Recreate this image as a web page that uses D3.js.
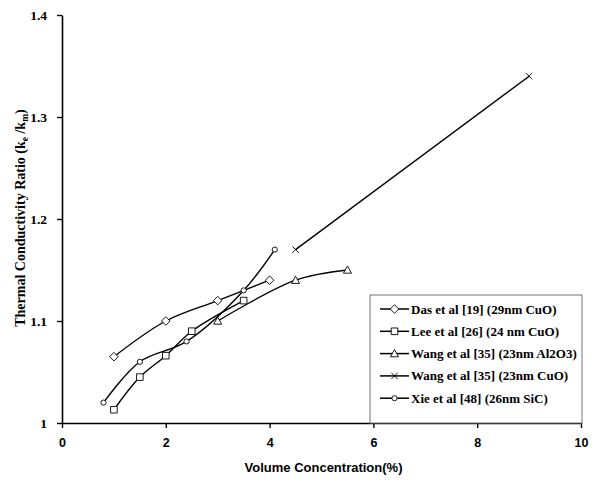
<!DOCTYPE html>
<html>
<head>
<meta charset="utf-8">
<script src="https://cdn.jsdelivr.net/npm/d3@7"></script>
<style>
  html, body { margin: 0; padding: 0; background: #fff; }
  svg { display: block; }
</style>
</head>
<body>
<svg id="chart" width="593" height="481"></svg>
<script>
// ---- data ----
const xTicks = [0, 2, 4, 6, 8, 10];
const yTicks = [1, 1.1, 1.2, 1.3, 1.4];
const seriesNames = [
  "Das et al [19] (29nm CuO)",
  "Lee et al [26] (24 nm CuO)",
  "Wang et al [35] (23nm Al2O3)",
  "Wang et al [35] (23nm CuO)",
  "Xie et al [48] (26nm SiC)"
];
const seriesMarkers = ["diamond", "square", "triangle", "cross", "circle"];
const dasX = [1, 2, 3, 4];
const dasY = [1.065, 1.10, 1.12, 1.14];
const leeX = [1, 1.5, 2, 2.5, 3.5];
const leeY = [1.013, 1.045, 1.066, 1.09, 1.12];
const wangAlX = [3, 4.5, 5.5];
const wangAlY = [1.10, 1.14, 1.15];
const wangCuX = [4.5, 9];
const wangCuY = [1.17, 1.34];
const xieX = [0.8, 1.5, 2.4, 3.5, 4.1];
const xieY = [1.02, 1.06, 1.08, 1.13, 1.17];

const seriesX = [dasX, leeX, wangAlX, wangCuX, xieX];
const seriesY = [dasY, leeY, wangAlY, wangCuY, xieY];
const series = seriesNames.map((name, i) => ({
  name, marker: seriesMarkers[i],
  points: seriesX[i].map((x, j) => ({ x, y: seriesY[i][j] }))
}));

// ---- layout ----
const svg = d3.select("#chart");
const margin = { left: 62, right: 12, top: 15, bottom: 58 };
const W = 593, H = 481;
const x = d3.scaleLinear().domain([0, 10]).range([margin.left, W - margin.right]);
const y = d3.scaleLinear().domain([1, 1.4]).range([H - margin.bottom, margin.top]);

function markerPath(type) {
  const p = d3.path();
  if (type === "diamond") {
    const r = 4.3; p.moveTo(0, -r); p.lineTo(r, 0); p.lineTo(0, r); p.lineTo(-r, 0); p.closePath();
  } else if (type === "square") {
    const r = 3.3; p.rect(-r, -r, 2 * r, 2 * r);
  } else if (type === "triangle") {
    const r = 4; p.moveTo(0, -r); p.lineTo(r, r * 0.8); p.lineTo(-r, r * 0.8); p.closePath();
  } else if (type === "cross") {
    const r = 3.2; p.moveTo(-r, -r); p.lineTo(r, r); p.moveTo(r, -r); p.lineTo(-r, r);
  } else if (type === "circle") {
    p.arc(0, 0, 2.6, 0, Math.PI * 2);
  }
  return p.toString();
}

// axes
const xAxis = svg.append("g")
  .attr("transform", `translate(0,${y(1)})`)
  .call(d3.axisBottom(x).tickValues(xTicks).tickSize(5).tickSizeOuter(0).tickPadding(10).tickFormat(d3.format("d")));
xAxis.select(".domain").attr("stroke", "#000").attr("stroke-width", 1.6);
xAxis.selectAll(".tick line").attr("stroke", "#000").attr("stroke-width", 1.4);
xAxis.selectAll(".tick text")
  .attr("font-family", "Liberation Sans, Arial, sans-serif")
  .attr("font-weight", "bold").attr("font-size", 12.5).attr("fill", "#000");

const yAxis = svg.append("g")
  .attr("transform", `translate(${x(0)},0)`)
  .call(d3.axisLeft(y).tickValues(yTicks).tickSize(5).tickSizeOuter(0).tickPadding(10)
    .tickFormat(d => d === 1 ? "1" : d3.format(".1f")(d)));
yAxis.select(".domain").attr("stroke", "#000").attr("stroke-width", 1.6);
yAxis.selectAll(".tick line").attr("stroke", "#000").attr("stroke-width", 1.4);
yAxis.selectAll(".tick text")
  .attr("font-family", "Liberation Serif, Times New Roman, serif")
  .attr("font-weight", "bold").attr("font-size", 13.5).attr("fill", "#000");

// axis titles
svg.append("text")
  .attr("x", (x(0) + x(10)) / 2 + 2).attr("y", 472)
  .attr("text-anchor", "middle")
  .attr("font-family", "Liberation Sans, Arial, sans-serif")
  .attr("font-weight", "bold").attr("font-size", 13)
  .text("Volume Concentration(%)");

const yt = svg.append("text")
  .attr("transform", `translate(25,${218}) rotate(-90)`)
  .attr("text-anchor", "middle")
  .attr("font-family", "Liberation Serif, Times New Roman, serif")
  .attr("font-weight", "bold").attr("font-size", 14);
yt.append("tspan").text("Thermal Conductivity Ratio (k");
yt.append("tspan").attr("font-size", 9.5).attr("dy", 3).text("e");
yt.append("tspan").attr("dy", -3).text(" /k");
yt.append("tspan").attr("font-size", 9.5).attr("dy", 3).text("m");
yt.append("tspan").attr("dy", -3).text(")");

// lines
const line = d3.line().x(d => x(d.x)).y(d => y(d.y)).curve(d3.curveCatmullRom.alpha(0.5));
const g = svg.append("g");
series.forEach(s => {
  g.append("path").datum(s.points)
    .attr("d", line).attr("fill", "none")
    .attr("stroke", "#000").attr("stroke-width", 1.4);
});
series.forEach(s => {
  g.selectAll(null).data(s.points).enter().append("path")
    .attr("transform", d => `translate(${x(d.x)},${y(d.y)})`)
    .attr("d", markerPath(s.marker))
    .attr("fill", s.marker === "cross" ? "none" : "#fff")
    .attr("stroke", "#000").attr("stroke-width", 0.9);
});

// legend
const lg = svg.append("g");
const lx0 = 370, ly0 = 295, lw = 212, lh = y(1) - ly0;
lg.append("rect").attr("x", lx0).attr("y", ly0).attr("width", lw).attr("height", lh)
  .attr("fill", "#fff").attr("stroke", "#777").attr("stroke-width", 1);
series.forEach((s, i) => {
  const cy = 309 + i * 22.3;
  lg.append("line").attr("x1", 380).attr("x2", 409).attr("y1", cy).attr("y2", cy)
    .attr("stroke", "#000").attr("stroke-width", 1.5);
  lg.append("path").attr("transform", `translate(394.5,${cy})`)
    .attr("d", markerPath(s.marker))
    .attr("fill", s.marker === "cross" ? "none" : "#fff")
    .attr("stroke", "#000").attr("stroke-width", 0.9);
  lg.append("text").attr("x", 411).attr("y", cy + 4.5)
    .attr("font-family", "Liberation Serif, Times New Roman, serif")
    .attr("font-weight", "bold").attr("font-size", 13)
    .text(s.name);
});
</script>
</body>
</html>
